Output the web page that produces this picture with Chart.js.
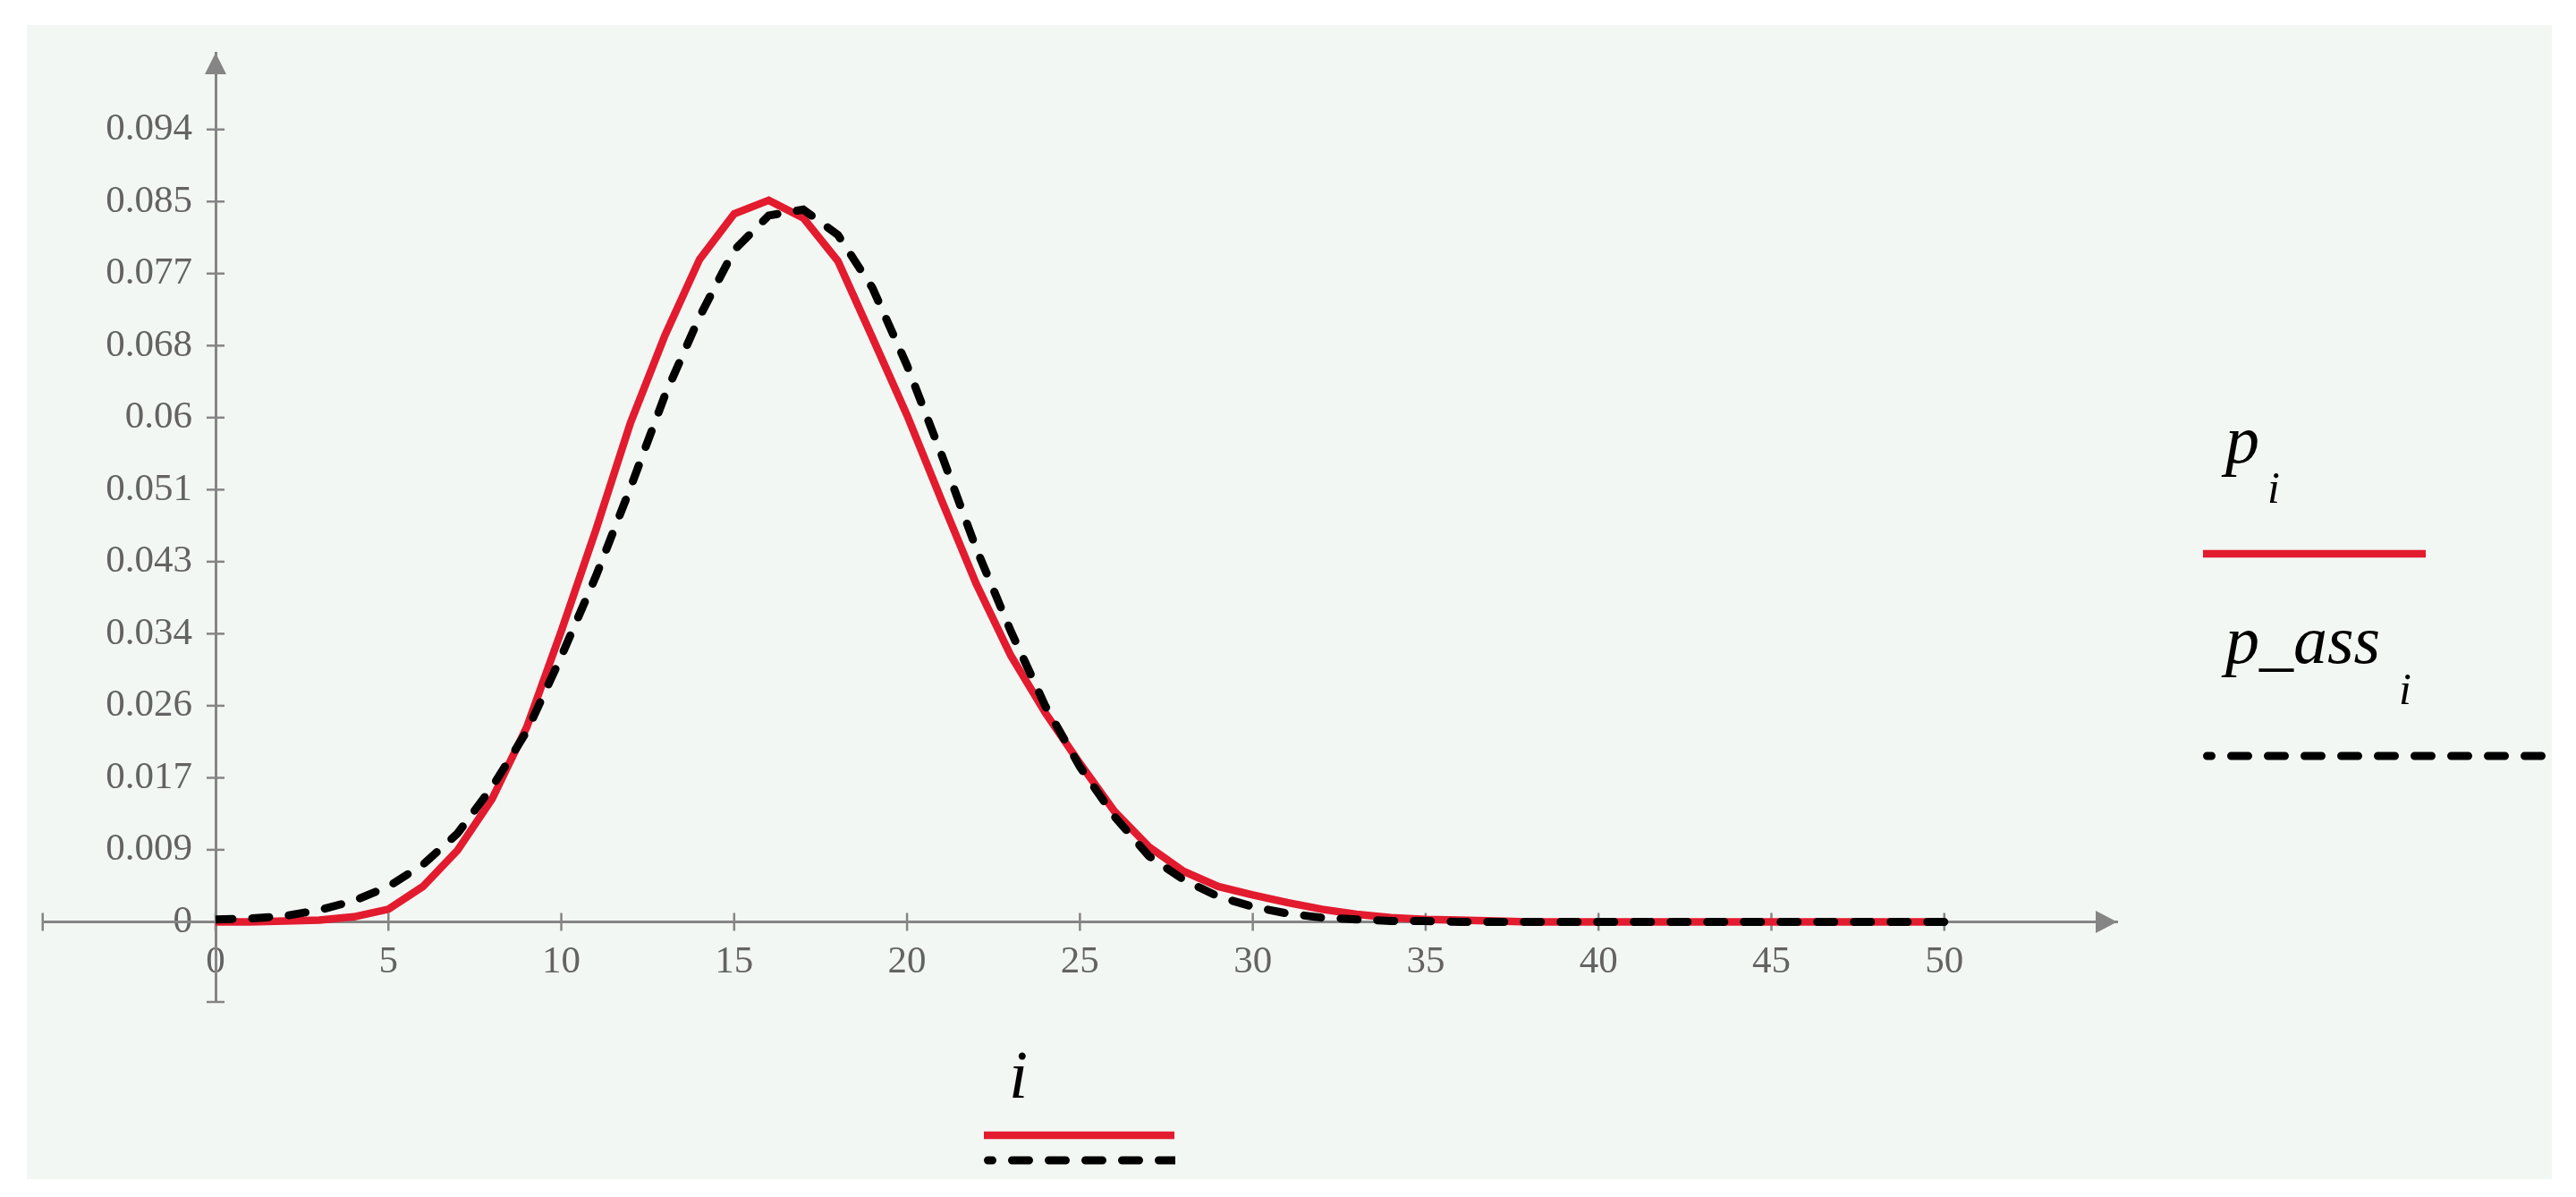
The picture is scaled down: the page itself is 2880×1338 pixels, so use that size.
<!DOCTYPE html>
<html>
<head>
<meta charset="utf-8">
<script src="https://cdn.jsdelivr.net/npm/chart.js@4.4.1/dist/chart.umd.min.js"></script>
<style>
html,body{margin:0;padding:0;background:#ffffff;}
canvas{display:block;}
</style>
</head>
<body>
<canvas id="c" width="2880" height="1338" style="width:2880px;height:1338px"></canvas>
<script>
// ---- data ----
const iValues = [0,1,2,3,4,5,6,7,8,9,10,11,12,13,14,15,16,17,18,19,20,21,22,23,24,25,26,27,28,29,30,31,32,33,34,35,36,37,38,39,40,41,42,43,44,45,46,47,48,49,50];
const pValues = [0.0000,0.0000,0.0001,0.0002,0.0006,0.0015,0.0042,0.0085,0.0146,0.0231,
                 0.0345,0.0465,0.0592,0.0696,0.0786,0.0840,0.0856,0.0835,0.0784,0.0693,
                 0.0601,0.0500,0.0401,0.0316,0.0248,0.0188,0.0131,0.0089,0.0060,0.0042,
                 0.0032,0.0023,0.0015,0.0009,0.0005,0.0003,0.0002,0.0001,0.0000,0.0000,
                 0.0000,0.0000,0.0000,0.0000,0.0000,0.0000,0.0000,0.0000,0.0000,0.0000,0.0000];
const pAssValues = [0.0003,0.0004,0.0007,0.0014,0.0025,0.0042,0.0068,0.0105,0.0160,0.0226,
                    0.0315,0.0410,0.0515,0.0625,0.0718,0.0797,0.0838,0.0845,0.0815,0.0752,
                    0.0660,0.0554,0.0443,0.0345,0.0256,0.0184,0.0125,0.0078,0.0050,0.0030,
                    0.0018,0.0010,0.0005,0.0003,0.0001,0.0001,0.0000,0.0000,0.0000,0.0000,
                    0.0000,0.0000,0.0000,0.0000,0.0000,0.0000,0.0000,0.0000,0.0000,0.0000,0.0000];
const xTickValues = [0,5,10,15,20,25,30,35,40,45,50];
const xTickLabels = ['0','5','10','15','20','25','30','35','40','45','50'];
const yTickValues = [0,0.00855,0.01709,0.02564,0.03418,0.04273,0.05127,0.05982,0.06836,0.07691,0.08545,0.094];
const yTickLabels = ['0','0.009','0.017','0.026','0.034','0.043','0.051','0.06','0.068','0.077','0.085','0.094'];
const seriesNames = ['p', 'p_ass'];
const seriesSubscript = 'i';
const xAxisName = 'i';

// ---- styles ----
const RED = '#e31b2e';
const BLACK = '#000000';
const AXIS = '#858585';
const LABEL = '#636363';
const PANEL = '#f3f7f4';
const X_EXT = -5;   // left extension of the horizontal axis (in x units)

function seg(ctx, x1, y1, x2, y2) {
  ctx.beginPath(); ctx.moveTo(x1, y1); ctx.lineTo(x2, y2); ctx.stroke();
}

const decor = {
  id: 'decor',
  beforeDraw(chart) {
    const ctx = chart.ctx;
    ctx.save();
    ctx.fillStyle = '#ffffff';
    ctx.fillRect(0, 0, chart.width, chart.height);
    ctx.fillStyle = PANEL;
    ctx.fillRect(30, 28, 2823, 1290);
    ctx.restore();
  },
  beforeDatasetsDraw(chart) {
    const ctx = chart.ctx;
    const xs = chart.scales.x, ys = chart.scales.y;
    const ca = chart.chartArea;
    const x0 = xs.getPixelForValue(0), y0 = ys.getPixelForValue(0);
    const xLeft = xs.getPixelForValue(X_EXT);
    ctx.save();
    ctx.strokeStyle = AXIS;
    ctx.fillStyle = AXIS;
    // left extension of the horizontal axis
    ctx.lineWidth = 3;
    seg(ctx, xLeft, y0, x0, y0);
    ctx.lineWidth = 2.5;
    xTickValues.forEach(v => { const px = xs.getPixelForValue(v); seg(ctx, px, y0 - 10, px, y0 + 10); });
    yTickValues.forEach(v => { const py = ys.getPixelForValue(v); seg(ctx, x0 - 10, py, x0 + 10, py); });
    // end caps
    seg(ctx, xLeft, y0 - 10, xLeft, y0 + 10);
    seg(ctx, x0 - 10, ca.bottom, x0 + 10, ca.bottom);
    // arrow heads
    ctx.beginPath();
    ctx.moveTo(ca.right, y0); ctx.lineTo(ca.right - 24, y0 - 12.5); ctx.lineTo(ca.right - 24, y0 + 12.5); ctx.closePath(); ctx.fill();
    ctx.beginPath();
    ctx.moveTo(x0, ca.top); ctx.lineTo(x0 - 12, ca.top + 24); ctx.lineTo(x0 + 12, ca.top + 24); ctx.closePath(); ctx.fill();
    ctx.restore();
  },
  afterDraw(chart) {
    const ctx = chart.ctx;
    const dsRed = chart.data.datasets[1];
    const dsBlack = chart.data.datasets[0];
    ctx.save();
    ctx.fillStyle = '#000000';
    ctx.textBaseline = 'alphabetic';
    ctx.textAlign = 'left';
    const big = 'italic 76px "Liberation Serif"';
    const small = 'italic 50px "Liberation Serif"';
    // right legend
    ctx.font = big; ctx.fillText(seriesNames[0], 2488, 517);
    ctx.font = small; ctx.fillText(seriesSubscript, 2535, 562);
    ctx.font = big; ctx.fillText(seriesNames[1], 2488, 741);
    ctx.font = small; ctx.fillText(seriesSubscript, 2682, 787);
    function sample(ds, x1, x2, y, offset) {
      ctx.save();
      ctx.strokeStyle = ds.borderColor;
      ctx.lineWidth = ds.borderWidth;
      ctx.lineCap = ds.borderCapStyle || 'butt';
      ctx.setLineDash(ds.borderDash || []);
      ctx.lineDashOffset = offset || 0;
      ctx.beginPath(); ctx.rect(x1 - 1, y - 20, x2 - x1 + 2, 40); ctx.clip();
      seg(ctx, x1 + (ds.borderDash ? 4.5 : 0), y, x2, y);
      ctx.restore();
    }
    sample(dsRed, 2463, 2712, 619);
    sample(dsBlack, 2463, 2850, 845, 14);
    // bottom legend (axis name)
    ctx.font = big; ctx.fillText(xAxisName, 1128, 1227);
    sample(dsRed, 1100, 1313, 1269);
    sample(dsBlack, 1100, 1313, 1297, 14);
    ctx.restore();
  }
};

const ctx = document.getElementById('c').getContext('2d');
new Chart(ctx, {
  type: 'line',
  data: {
    datasets: [
      {
        label: 'p_ass_i',
        data: iValues.map((x, k) => ({ x: x, y: pAssValues[k] })),
        borderColor: BLACK,
        borderWidth: 9,
        borderDash: [19, 22],
        borderCapStyle: 'round',
        pointRadius: 0,
        tension: 0,
        fill: false,
        order: 1
      },
      {
        label: 'p_i',
        data: iValues.map((x, k) => ({ x: x, y: pValues[k] })),
        borderColor: RED,
        borderWidth: 8.5,
        borderJoinStyle: 'miter',
        pointRadius: 0,
        tension: 0,
        fill: false,
        order: 2
      }
    ]
  },
  options: {
    responsive: false,
    animation: false,
    devicePixelRatio: 1,
    layout: { padding: { left: 48, right: 513, top: 59, bottom: 218 } },
    plugins: { legend: { display: false }, tooltip: { enabled: false } },
    scales: {
      x: {
        type: 'linear', min: 0, max: 55,
        position: { y: 0 },
        grid: { display: false },
        border: { display: true, color: AXIS, width: 3 },
        afterBuildTicks: s => { s.ticks = xTickValues.map(v => ({ value: v })); },
        ticks: {
          autoSkip: false, maxRotation: 0, minRotation: 0, padding: 11,
          color: LABEL, font: { family: '"Liberation Serif"', size: 43 },
          callback: (v, idx) => xTickLabels[idx]
        }
      },
      y: {
        type: 'linear', min: -0.0095, max: 0.1031,
        position: 'left',
        grid: { display: false },
        border: { display: true, color: AXIS, width: 3 },
        afterFit: s => { s.width = 193; },
        afterBuildTicks: s => { s.ticks = yTickValues.map(v => ({ value: v })); },
        ticks: {
          autoSkip: false, padding: 18,
          color: LABEL, font: { family: '"Liberation Serif"', size: 43 },
          callback: (v, idx) => yTickLabels[idx]
        }
      }
    }
  },
  plugins: [decor]
});
</script>
</body>
</html>
